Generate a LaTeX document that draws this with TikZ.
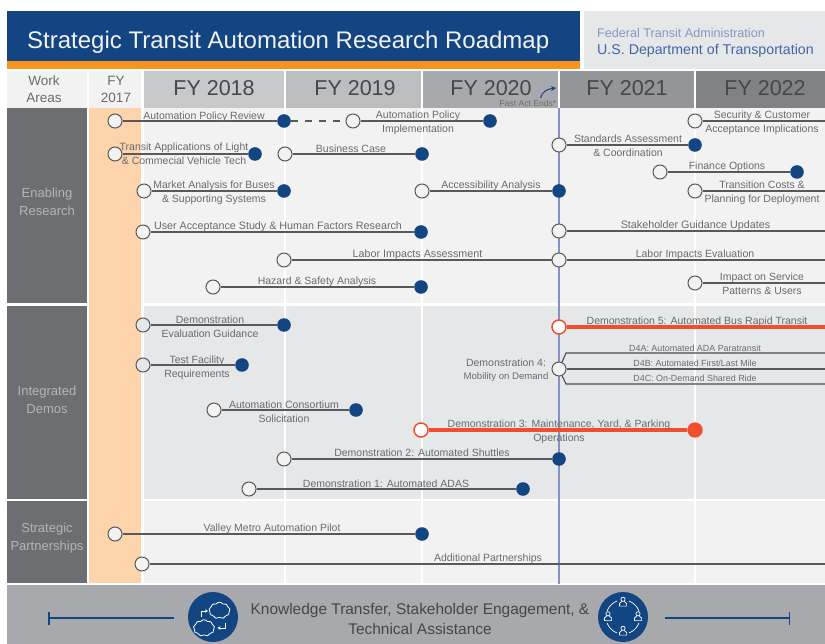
\documentclass[tikz,border=0pt]{standalone}
\usepackage{fontspec}
\setmainfont{Liberation Sans}
\usetikzlibrary{shapes.symbols,arrows.meta}
\definecolor{navy}{HTML}{134583}
\definecolor{orangebar}{HTML}{F7941E}
\definecolor{peach}{HTML}{FDD3AB}
\definecolor{panel}{HTML}{6D6E71}
\definecolor{lightbg}{HTML}{F2F2F2}
\definecolor{midbg}{HTML}{E6E7E8}
\definecolor{band}{HTML}{A7A9AC}
\definecolor{txt}{HTML}{6A6B6E}
\definecolor{hdr}{HTML}{46474A}
\definecolor{linec}{HTML}{58595B}
\definecolor{redc}{HTML}{F04E2D}
\definecolor{vline}{HTML}{8790C2}
\definecolor{hfa}{HTML}{C8C9CB}
\definecolor{hfb}{HTML}{BBBDBF}
\definecolor{hfd}{HTML}{939598}
\definecolor{hfe}{HTML}{808285}
\definecolor{ftac}{HTML}{8399C2}
\definecolor{dotc}{HTML}{3F68A5}
\definecolor{sidec}{HTML}{B4B5B8}
\tikzset{
  openc/.style={circle,draw=linec,line width=1pt,fill=lightbg,minimum size=14pt,inner sep=0pt},
  fillc/.style={circle,fill=navy,minimum size=13.6pt,inner sep=0pt},
  openr/.style={circle,draw=redc,line width=1.5pt,fill=white,minimum size=14pt,inner sep=0pt},
  fillr/.style={circle,fill=redc,minimum size=15.4pt,inner sep=0pt},
  link/.style={draw=linec,line width=1.3pt},
  linkr/.style={draw=redc,line width=3.2pt},
  lbl/.style={text=txt,font=\fontsize{10.5}{13.7}\selectfont,align=center,inner sep=0pt,yshift=-1pt},
  lblw/.style={text=txt,font=\fontsize{10.75}{13.7}\selectfont,align=center,inner sep=0pt,yshift=-1pt},
  lblsm/.style={text=txt,font=\fontsize{8.9}{11}\selectfont,align=center,inner sep=0pt,yshift=-.5pt},
  fy/.style={text=hdr,font=\fontsize{21.5}{24}\selectfont,inner sep=0pt},
  hd/.style={text=txt,font=\fontsize{13.5}{17}\selectfont,align=center,inner sep=0pt},
  side/.style={text=sidec,font=\fontsize{13}{18}\selectfont,align=center,inner sep=0pt},
  person/.pic={
    \draw[white,line width=.7pt] (0,-3.2) circle (2.1);
    \draw[white,line width=.7pt] (-1.2,-1) -- (-3.6,1) -- (-3.6,3.6) -- (3.6,3.6) -- (3.6,1) -- (1.2,-1);
  }
}
\begin{document}
\begin{tikzpicture}[x=1pt,y=-1pt]
\useasboundingbox (0,0) rectangle (825,644);
\fill[white] (0,0) rectangle (825,644);
% banner
\fill[navy] (7,11) rectangle (580,61);
\fill[orangebar] (7,61) rectangle (580,69);
\fill[midbg] (584,11) rectangle (825,69);
% header
\fill[lightbg] (7,71) rectangle (87,108);
\fill[lightbg] (89,71) rectangle (141,108);
\fill[hfa] (144,71) rectangle (284,108);
\fill[hfb] (286,71) rectangle (421,108);
\fill[band] (423,71) rectangle (558,108);
\fill[hfd] (560,71) rectangle (694,108);
\fill[hfe] (696,71) rectangle (825,108);
% panels
\fill[panel] (7,108) rectangle (87,303);
\fill[panel] (7,306) rectangle (87,499);
\fill[panel] (7,501) rectangle (87,583);
\fill[peach] (89,108) rectangle (141,583);
\fill[lightbg] (144,108) rectangle (825,303);
\fill[midbg] (144,306) rectangle (825,499);
\fill[lightbg] (144,501) rectangle (825,583);
\foreach \x in {284.5,422,694.5} \fill[white] (\x-1,108) rectangle (\x+1,583);
\fill[band] (7,585) rectangle (825,644);
\draw[vline,line width=2pt] (559,108) -- (559,584);
% titles
\node[text=lightbg,font=\fontsize{24}{28}\selectfont,inner sep=0pt,anchor=west] (title) at (27,42.5) {Strategic Transit Automation Research Roadmap};
\node[text=ftac,font=\fontsize{12.6}{16}\selectfont,inner sep=0pt,anchor=west] (fta) at (597,33.5) {Federal Transit Administration};
\node[text=dotc,font=\fontsize{14.2}{16}\selectfont,inner sep=0pt,anchor=west] (dot) at (597,51) {U.S. Department of Transportation};
\node[hd] (wa) at (44,89) {Work\\Areas};
\node[hd] (f17) at (116,89) {FY\\2017};
\node[fy] (f18) at (214,88) {FY 2018};
\node[fy] (f19) at (355,88) {FY 2019};
\node[fy] (f20) at (491,88) {FY 2020};
\node[fy] (f21) at (627,88) {FY 2021};
\node[fy] (f22) at (765,88) {FY 2022};
\node[text=txt,font=\fontsize{8.6}{10}\selectfont,inner sep=0pt,anchor=east] (fast) at (556.5,103) {Fast Act Ends*};
\coordinate (fa) at (540.5,98);
\coordinate (fb) at (556,88);
\draw[navy,line width=1pt,-{Stealth[length=5pt,width=5pt]}] (fa) .. controls (542,92) and (547,89) .. (fb);
\node[side] (s1) at (47,202) {Enabling\\Research};
\node[side] (s2) at (47,400) {Integrated\\Demos};
\node[side] (s3) at (47,538.5) {Strategic\\Partnerships};
% Enabling research nodes
\node[openc] (a1) at (115,121) {};
\node[fillc] (a2) at (284,121) {};
\node[openc] (a3) at (353,121) {};
\node[fillc] (a4) at (490,121) {};
\node[openc] (b1) at (115,154) {};
\node[fillc] (b2) at (255,154) {};
\node[openc] (b3) at (285,154) {};
\node[fillc] (b4) at (422,154) {};
\node[openc] (c1) at (144,191) {};
\node[fillc] (c2) at (284,191) {};
\node[openc] (c3) at (422,191) {};
\node[fillc] (c4) at (559,191) {};
\node[openc] (d1) at (143,232) {};
\node[fillc] (d2) at (421,232) {};
\node[openc] (e1) at (284,260) {};
\node[openc] (e2) at (559,260) {};
\node[openc] (f1) at (213,287) {};
\node[fillc] (f2) at (421,287) {};
\node[openc] (g1) at (695,121) {};
\coordinate (g2) at (825,121);
\node[openc] (h1) at (559,145) {};
\node[fillc] (h2) at (695,145) {};
\node[openc] (i1) at (660,172) {};
\node[fillc] (i2) at (797,172) {};
\node[openc] (j1) at (695,191) {};
\coordinate (j2) at (825,191);
\node[openc] (k1) at (559,231) {};
\node[fillc] (k2) at (832,231) {};
\coordinate (e3) at (825,260);
\node[openc] (m1) at (695,283) {};
\node[fillc] (m2) at (832,283) {};
% Demos nodes
\node[openc,fill=midbg] (n1) at (143,325) {};
\node[fillc] (n2) at (284,325) {};
\node[openc,fill=midbg] (o1) at (143,365) {};
\node[fillc] (o2) at (242,365) {};
\node[openc] (p1) at (214,410) {};
\node[fillc] (p2) at (356,410) {};
\node[openr] (q1) at (421,430) {};
\node[fillr] (q2) at (695,430) {};
\node[openc] (r1) at (284,459) {};
\node[fillc] (r2) at (559,459) {};
\node[openc] (t1) at (249,489) {};
\node[fillc] (t2) at (523,489) {};
\node[openr] (u1) at (559,327) {};
\coordinate (u2) at (825,327);
\node[openc] (v1) at (559,369) {};
\coordinate (va) at (566,353);
\coordinate (vb) at (566,384);
\coordinate (v2) at (825,353);
\coordinate (v3) at (825,369);
\coordinate (v4) at (825,384);
% Partnerships nodes
\node[openc] (w1) at (115,534) {};
\node[fillc] (w2) at (422,534) {};
\node[openc] (y1) at (142,564) {};
\node[fillc] (y2) at (832,564) {};
% connectors
\draw[link] (a1) -- (a2);
\draw[link,dash pattern=on 7pt off 7pt] (a2) -- (a3);
\draw[link] (a3) -- (a4);
\draw[link] (b1) -- (b2);
\draw[link] (b3) -- (b4);
\draw[link] (c1) -- (c2);
\draw[link] (c3) -- (c4);
\draw[link] (d1) -- (d2);
\draw[link] (e1) -- (e2);
\draw[link] (e2) -- (e3);
\draw[link] (f1) -- (f2);
\draw[link] (g1) -- (g2);
\draw[link] (h1) -- (h2);
\draw[link] (i1) -- (i2);
\draw[link] (j1) -- (j2);
\draw[link] (k1) -- (k2);
\draw[link] (m1) -- (m2);
\draw[link] (n1) -- (n2);
\draw[link] (o1) -- (o2);
\draw[link] (p1) -- (p2);
\draw[linkr] (q1) -- (q2);
\draw[link] (r1) -- (r2);
\draw[link] (t1) -- (t2);
\draw[linkr] (u1) -- (u2);
\draw[link,line width=1.1pt,draw=linec!85!black] (v1) -- (va) -- (v2);
\draw[link] (v1) -- (v3);
\draw[link,line width=1.1pt,draw=linec!85!black] (v1) -- (vb) -- (v4);
\draw[link] (w1) -- (w2);
\draw[link] (y1) -- (y2);
% labels
\node[lbl] (la) at (204,115.5) {Automation Policy Review};
\node[lbl] (la2) at (418,122) {Automation Policy\\Implementation};
\node[lbl] (lb) at (184,153) {Transit Applications of Light\\\& Commecial Vehicle Tech};
\node[lbl] (lb2) at (351,148) {Business Case};
\node[lbl] (lc) at (214,191.5) {Market Analysis for Buses\\\& Supporting Systems};
\node[lbl] (lc2) at (491,185) {Accessibility Analysis};
\node[lblw] (ld) at (278,225.5) {User Acceptance Study \& Human Factors Research};
\node[lblw] (le) at (417.5,254) {Labor Impacts Assessment};
\node[lbl] (lf) at (317,281) {Hazard \& Safety Analysis};
\node[lbl] (lg) at (762,122) {Security \& Customer\\Acceptance Implications};
\node[lbl] (lh) at (628,145) {Standards Assessment\\\& Coordination};
\node[lbl] (li) at (727,166) {Finance Options};
\node[lbl] (lj) at (762,191.5) {Transition Costs \&\\Planning for Deployment};
\node[lblw] (lk) at (695.5,225) {Stakeholder Guidance Updates};
\node[lbl] (ll) at (695,254) {Labor Impacts Evaluation};
\node[lbl] (lm) at (762,283) {Impact on Service\\Patterns \& Users};
\node[lbl] (ln) at (210,325.5) {Demonstration\\Evaluation Guidance};
\node[lbl] (lo) at (197,367) {Test Facility\\Requirements};
\node[lbl] (lp) at (284,411) {Automation Consortium\\Solicitation};
\node[lbl] (lq) at (559,431) {Demonstration 3: Maintenance, Yard, \& Parking\\Operations};
\node[lbl] (lr) at (422,451.5) {Demonstration 2: Automated Shuttles};
\node[lbl] (lt) at (386,483) {Demonstration 1: Automated ADAS};
\node[lbl] (lu) at (697,321) {Demonstration 5: Automated Bus Rapid Transit};
\node[lbl] (lv) at (506,369.5) {Demonstration 4:\\[-1pt]{\fontsize{9.6}{12}\selectfont Mobility on Demand}};
\node[lblsm] (lv1) at (695,348) {D4A: Automated ADA Paratransit};
\node[lblsm] (lv2) at (695,363) {D4B: Automated First/Last Mile};
\node[lblsm] (lv3) at (695,378) {D4C: On-Demand Shared Ride};
\node[lbl] (lw) at (272,528) {Valley Metro Automation Pilot};
\node[lbl] (ly) at (488,558) {Additional Partnerships};
% bottom band
\node[text=hdr,font=\fontsize{15.45}{20}\selectfont,align=center,inner sep=0pt] (kt) at (420,619) {Knowledge Transfer, Stakeholder Engagement, \&\\Technical Assistance};
\node[circle,fill=navy,minimum size=50pt,inner sep=0pt] (ic1) at (213,617) {};
\node[circle,fill=navy,minimum size=50pt,inner sep=0pt] (ic2) at (623,617) {};
\coordinate (ll1) at (49,618);
\coordinate (ll2) at (174,618);
\coordinate (rl1) at (665,618);
\coordinate (rl2) at (789.5,618);
\draw[navy,line width=1.4pt] (ll1) -- (ll2);
\draw[navy,line width=1.4pt] (rl1) -- (rl2);
\draw[navy,line width=1.6pt] (49,611.5) -- (49,624.5);
\draw[navy,line width=1.6pt] (789.5,611.5) -- (789.5,624.5);
% cloud icon
\node[cloud,cloud puffs=9,cloud puff arc=110,draw=white,line width=.8pt,minimum width=21pt,minimum height=16.5pt,inner sep=0pt,aspect=1.3] (cl1) at (219.5,610.5) {};
\node[cloud,cloud puffs=9,cloud puff arc=110,draw=white,line width=.8pt,minimum width=21pt,minimum height=16.5pt,inner sep=0pt,aspect=1.3] (cl2) at (204,628) {};
\draw[white,line width=.8pt,-{Stealth[length=3pt,width=3.5pt]}] (201,617) -- (201,611) -- (208,611);
\draw[white,line width=.8pt,-{Stealth[length=3pt,width=3.5pt]}] (225,622.5) -- (225,628) -- (217.5,628);
% people icon
\pic at (623,602.5) {person};
\pic at (638,617) {person};
\pic at (623,631.5) {person};
\pic at (608,617) {person};
\foreach \a/\b in {20/70,110/160,200/250,290/340}
  \draw[white,line width=.7pt] plot[domain=\a:\b,samples=8,smooth] ({623+17*cos(\x)},{617+17*sin(\x)});
\end{tikzpicture}
\end{document}
